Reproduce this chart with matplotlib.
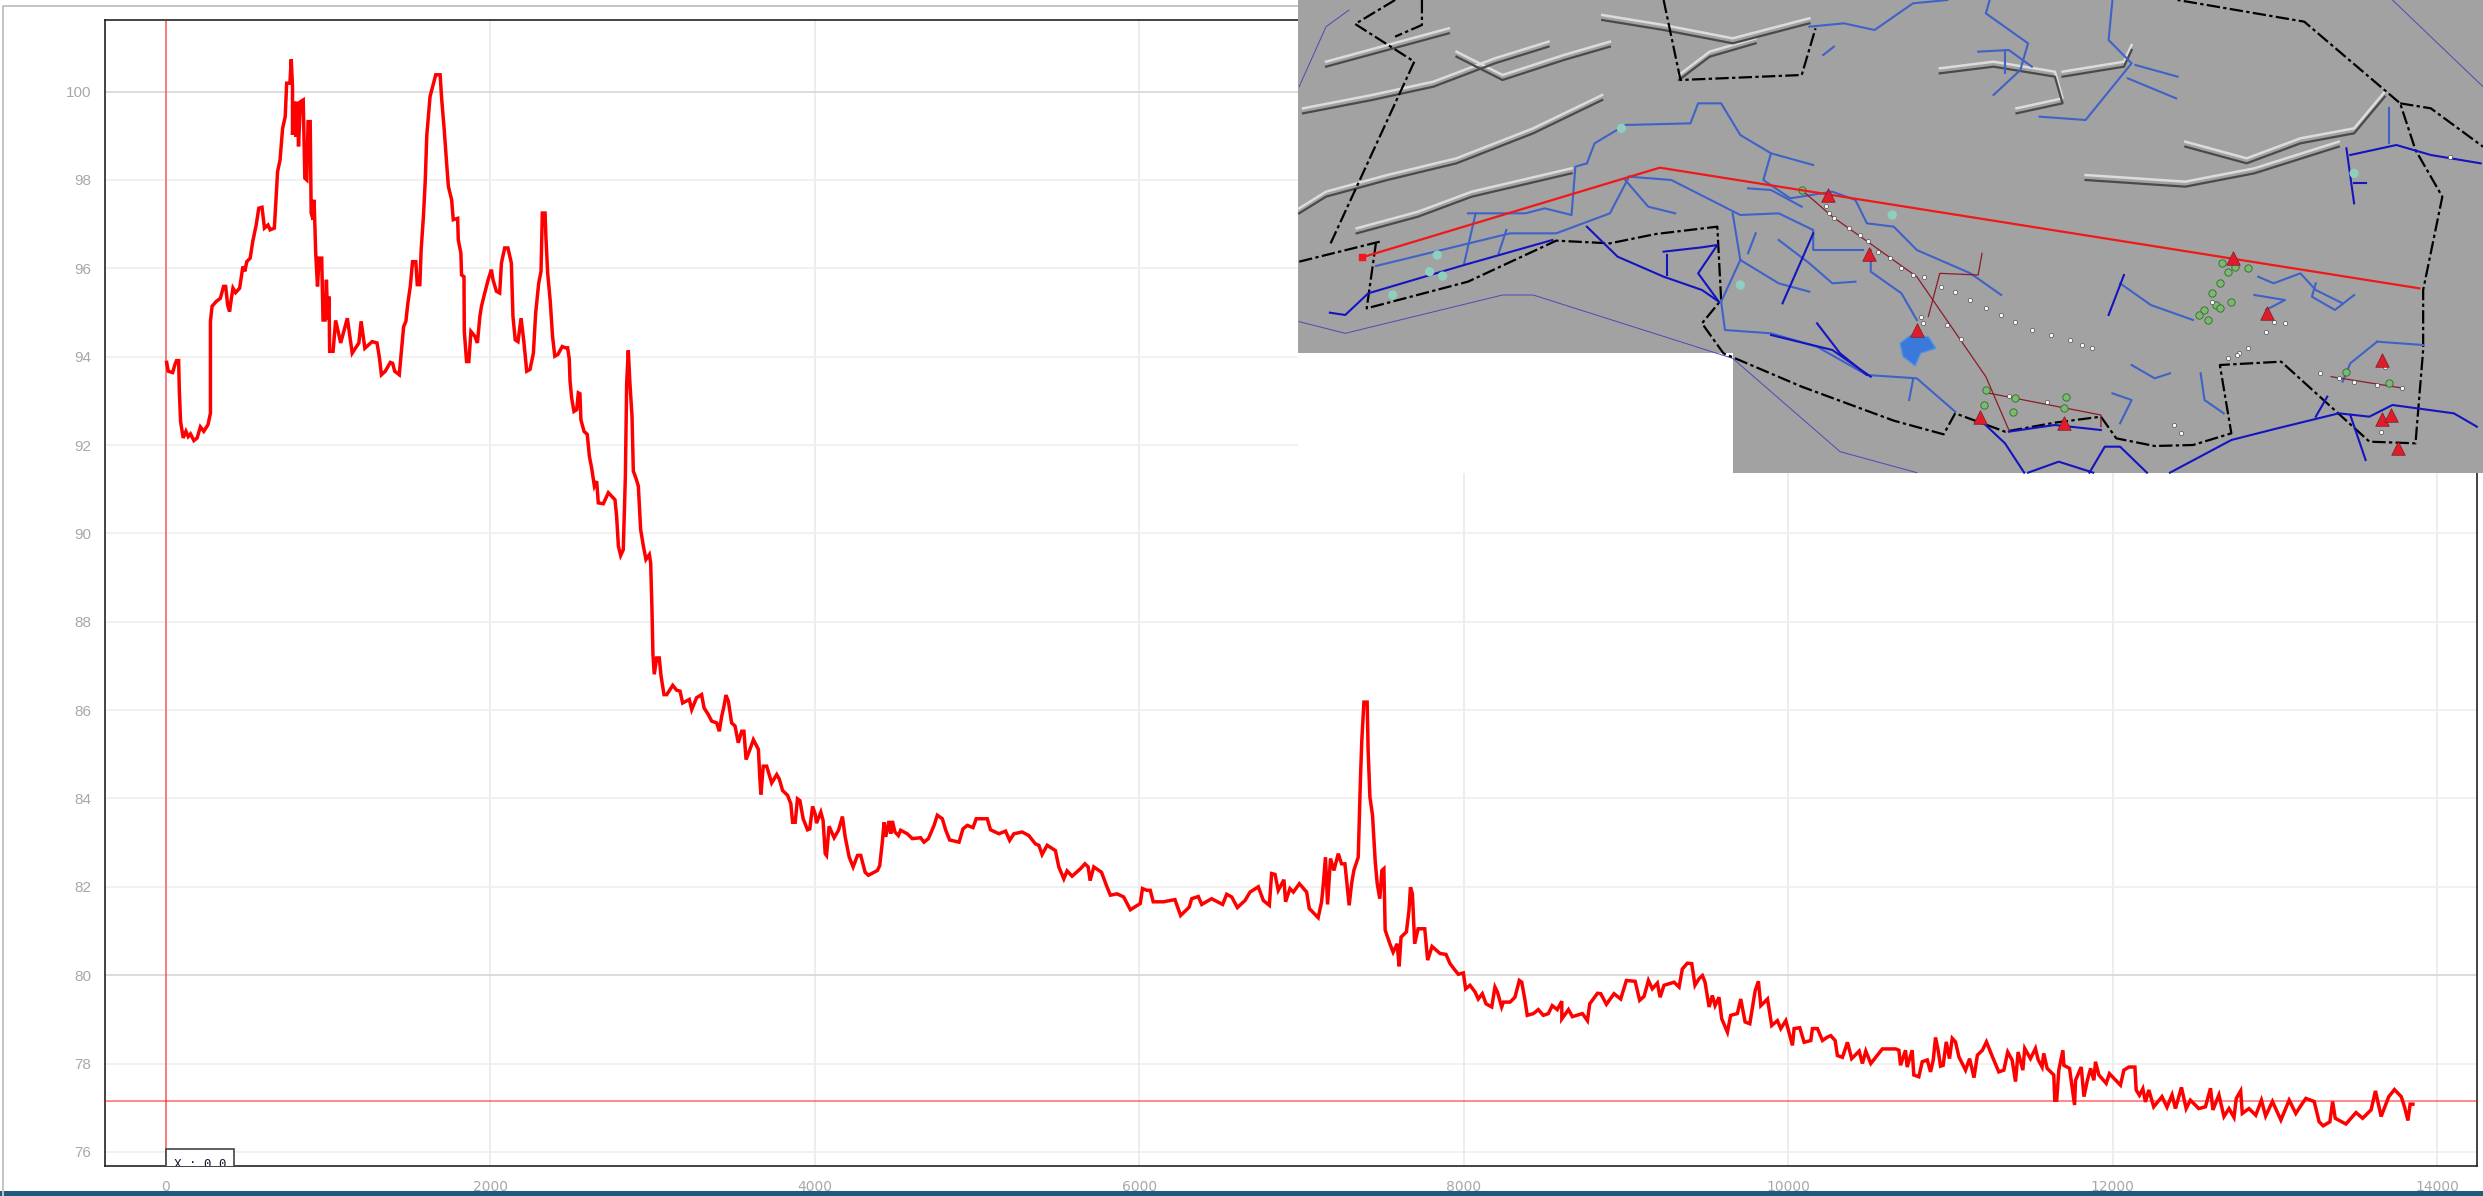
import numpy as np
import matplotlib
matplotlib.use("Agg")
import matplotlib.pyplot as plt
from matplotlib.patches import Rectangle, Polygon

# elevation profile (distance, elevation)
dist_a = [4,14,41,55,65,78,82,90,106,123,137,151,172,192,212,233,259,274,274,284,310,335,355,368,380,392,402,413,429,454,474,486,498,519,535,556,572,592,607,629,642,668,678,688,703,719,735,744,764,772,780,780,791,801,809,817,829,846,856,868,876,889,895,907,913,923,934,944,960,968,981,989,997,1005,1009,1030,1046,1077,1118,1148,1189,1203,1226,1271,1301,1316,1328,1352,1383,1397,1410,1438,1451,1465,1479,1491,1506,1520,1540,1549,1565,1573,1587,1598,1608,1628,1649,1663,1690,1700,1716,1730,1741,1761,1771,1798,1802,1818,1822,1837,1839,1853,1867,1880,1904,1920,1935,1945,1965,1986,2006,2016,2037,2057,2068,2088,2108,2129,2139,2153,2170]
elev_a = [93.87,93.67,93.64,93.82,93.91,93.91,93.25,92.53,92.16,92.31,92.19,92.25,92.10,92.16,92.41,92.31,92.46,92.72,94.80,95.14,95.25,95.32,95.59,95.59,95.17,95.02,95.29,95.55,95.45,95.55,96.04,95.93,96.15,96.23,96.61,96.98,97.36,97.38,96.91,96.98,96.87,96.91,97.55,98.19,98.45,99.17,99.43,100.19,100.19,100.73,100.11,99.02,99.77,98.98,99.77,98.76,99.77,99.81,98.04,98.00,99.32,99.32,97.25,97.10,97.55,96.34,95.59,96.23,96.23,94.83,94.83,95.74,94.83,95.36,94.12,94.12,94.82,94.31,94.87,94.08,94.31,94.80,94.19,94.34,94.31,93.97,93.59,93.67,93.87,93.85,93.67,93.59,94.12,94.68,94.80,95.21,95.59,96.15,96.15,95.63,95.63,96.42,97.17,97.96,99.02,99.89,100.19,100.38,100.38,99.81,99.10,98.38,97.85,97.55,97.10,97.13,96.64,96.34,95.85,95.81,94.57,93.89,93.89,94.57,94.46,94.31,94.91,95.14,95.44,95.74,95.97,95.74,95.48,95.44,96.12,96.46,96.46,96.12,94.91,94.38,94.34]

dist_b = [2189,2205,2224,2244,2265,2279,2298,2312,2320,2337,2342,2353,2369,2383,2397,2416,2443,2462,2476,2486,2491,2501,2515,2532,2542,2552,2558,2577,2597,2610,2624,2641,2655,2665,2696,2727,2768,2778,2789,2803,2819,2832,2840,2850,2860,2873,2881,2897,2912,2926,2943,2959,2980,2988,2996,3002,3010,3025,3041,3052,3070,3087,3124,3148,3169,3185,3226,3241,3271,3302,3317,3343,3364,3395,3411,3426,3440,3452,3467,3487,3508,3528,3549,3563,3576,3600,3621,3652,3662,3668,3682,3703,3734,3765]
elev_b = [94.87,94.38,93.67,93.71,94.08,94.99,95.67,95.93,97.25,97.25,96.72,95.89,95.25,94.46,94.01,94.05,94.23,94.20,94.2,93.95,93.44,93.06,92.76,92.8,93.18,93.16,92.57,92.31,92.24,91.75,91.48,91.07,91.18,90.69,90.67,90.92,90.76,90.39,89.71,89.5,89.63,91.29,93.4,94.14,93.4,92.65,91.41,91.25,91.07,90.09,89.71,89.41,89.52,89.33,88.28,87.26,86.81,87.18,87.18,86.77,86.35,86.35,86.56,86.45,86.43,86.16,86.24,86.01,86.28,86.35,86.05,85.9,85.75,85.71,85.52,85.86,86.09,86.34,86.2,85.71,85.64,85.26,85.52,85.52,84.88,85.11,85.33,85.11,84.39,84.09,84.73,84.73,84.35,84.54]

dist_c = [3781,3801,3832,3852,3863,3879,3893,3908,3928,3955,3969,3986,4002,4010,4037,4051,4064,4072,4088,4119,4146,4170,4187,4212,4236,4263,4283,4310,4330,4386,4400,4416,4427,4437,4457,4468,4478,4494,4515,4529,4570,4601,4652,4673,4700,4735,4755,4786,4807,4831,4889,4913,4940,4975,4995,5063,5083,5135,5176,5201,5227,5278,5319,5360,5381,5401,5432,5483,5504,5535,5555,5586,5638,5665,5685,5697,5720,5767,5802,5822,5863,5904,5945,6006,6020,6047]
elev_c = [84.44,84.18,84.07,83.88,83.46,83.46,83.99,83.95,83.54,83.29,83.31,83.82,83.65,83.44,83.69,83.5,82.75,82.71,83.37,83.11,83.28,83.59,83.13,82.67,82.45,82.71,82.71,82.33,82.26,82.37,82.48,83.01,83.46,83.13,83.49,83.2,83.49,83.24,83.16,83.28,83.2,83.09,83.11,83.01,83.09,83.39,83.62,83.54,83.28,83.06,83.01,83.31,83.39,83.34,83.54,83.54,83.29,83.2,83.26,83.05,83.2,83.24,83.16,82.97,82.94,82.73,82.94,82.82,82.45,82.18,82.36,82.24,82.41,82.52,82.45,82.14,82.45,82.33,81.99,81.81,81.84,81.77,81.48,81.62,81.96,81.92]

dist_d = [6068,6086,6148,6220,6255,6308,6323,6364,6385,6446,6514,6539,6570,6605,6652,6683,6734,6765,6802,6816,6837,6857,6892,6902,6929,6950,6987,7032,7048,7103,7124,7134,7148,7161,7179,7200,7227,7247,7268,7294,7309,7323,7350,7364,7372,7385,7405,7411,7422,7438,7455,7467,7483,7496,7508,7516,7545,7565,7590,7602,7614,7647,7663,7672,7684,7698,7719,7760,7778,7805,7854,7891]
elev_d = [81.92,81.66,81.66,81.71,81.35,81.54,81.73,81.78,81.6,81.73,81.6,81.83,81.77,81.53,81.69,81.88,82.0,81.69,81.58,82.3,82.28,81.92,82.16,81.66,81.96,81.88,82.07,81.88,81.51,81.3,81.66,82.03,82.67,81.6,82.64,82.37,82.75,82.52,82.52,81.58,82.07,82.37,82.67,84.49,85.31,86.18,86.18,85.09,84.03,83.62,82.56,82.07,81.73,82.37,82.41,81.02,80.71,80.52,80.71,80.2,80.86,80.98,81.47,81.99,81.84,80.71,81.05,81.05,80.34,80.65,80.49,80.47]

dist_e = [7916,7947,7967,7998,8012,8039,8070,8090,8115,8138,8173,8193,8208,8234,8245,8286,8316,8343,8358,8378,8392,8430,8460,8491,8522,8546,8577,8605,8605,8646,8670,8732,8763,8777,8825,8845,8880,8927,8968,9003,9057,9085,9112,9139,9163,9194,9211,9235,9297,9328,9348,9379,9406,9426,9451,9472,9488,9513,9533,9550,9574,9591,9626,9646,9687,9708,9735,9764,9797,9817,9832,9873,9899,9934,9955,9986,10027,10037,10072,10099,10140,10150,10181,10212,10243,10263,10290,10304,10335,10366,10392,10438,10458,10479,10510,10581,10622,10663]
elev_e = [80.26,80.11,80.02,80.05,79.69,79.77,79.62,79.46,79.58,79.35,79.28,79.73,79.62,79.28,79.39,79.39,79.5,79.88,79.84,79.43,79.09,79.13,79.22,79.09,79.13,79.31,79.22,79.41,79.01,79.22,79.06,79.13,78.97,79.35,79.59,79.58,79.34,79.58,79.46,79.88,79.86,79.43,79.52,79.88,79.69,79.82,79.5,79.77,79.84,79.73,80.14,80.27,80.26,79.77,79.92,79.99,79.84,79.28,79.54,79.31,79.5,79.01,78.71,79.09,79.13,79.46,78.94,78.9,79.65,79.86,79.31,79.46,78.86,78.97,78.79,78.97,78.41,78.79,78.81,78.48,78.52,78.79,78.79,78.52,78.6,78.63,78.52,78.18,78.14,78.48,78.11,78.28,78.0,78.28,78.0,78.33,78.33,78.33]

dist_f = [10683,10693,10724,10734,10765,10775,10806,10827,10858,10878,10895,10909,10925,10940,10956,10975,10995,11012,11032,11053,11094,11119,11146,11167,11198,11223,11260,11299,11330,11354,11381,11402,11418,11447,11459,11494,11525,11541,11566,11576,11597,11638,11644,11656,11669,11694,11700,11735,11766,11772,11807,11824,11845,11865,11885,11895,11916,11961,11981,12049,12070,12101,12138,12146,12166,12187,12203,12224]
elev_f = [78.3,77.96,78.3,77.92,78.3,77.74,77.7,78.04,78.08,77.81,78.08,78.59,78.3,77.94,77.96,78.49,78.11,78.57,78.49,78.15,77.85,78.11,77.68,78.19,78.3,78.49,78.15,77.81,77.85,78.26,78.08,77.59,78.26,77.85,78.34,78.11,78.34,78.09,77.92,78.23,77.89,77.74,77.17,77.17,77.85,78.3,77.96,77.89,77.06,77.62,77.92,77.25,77.62,77.89,77.62,78.04,77.74,77.55,77.77,77.51,77.85,77.92,77.92,77.4,77.28,77.43,77.13,77.4]

dist_g = [12254,12305,12336,12367,12388,12425,12454,12480,12532,12573,12604,12619,12656,12687,12718,12749,12763,12790,12800,12841,12883,12918,12944,12986,13038,13089,13130,13171,13192,13243,13274,13299,13340,13357,13373,13439,13501,13542,13594,13621,13656,13703,13738,13780,13800,13821,13835,13852]
elev_g = [77.02,77.25,77.01,77.29,76.98,77.46,76.98,77.17,76.98,77.02,77.44,76.95,77.29,76.8,76.98,76.78,77.21,77.38,76.87,76.98,76.83,77.17,76.81,77.14,76.72,77.17,76.87,77.1,77.21,77.14,76.68,76.59,76.68,77.14,76.76,76.63,76.89,76.76,76.95,77.38,76.8,77.25,77.41,77.25,77.02,76.71,77.08,77.08]

distance = dist_a + dist_b + dist_c + dist_d + dist_e + dist_f + dist_g
elevation = elev_a + elev_b + elev_c + elev_d + elev_e + elev_f + elev_g

xticks = [0,2000,4000,6000,8000,10000,12000,14000]
yticks = [76,78,80,82,84,86,88,90,92,94,96,98,100]
cross_x = 0
cross_y = 77.16

# map overlay features, in the map's own coordinates
map_outline = [(23,0),(1568,0),(1568,1418),(590,1418),(590,1058),(23,1058)]
lake = [(822,1005),(845,1010),(855,1045),(835,1060),(828,1098),(812,1070),(808,1030)]
profile_line = [(107,772),(495,503),(1485,865)]
sites_x = [714,768,830,913,1022,1242,1287,1437,1437,1448,1457]
sites_y = [585,762,990,1250,1268,773,938,1080,1258,1245,1345]
wells_x = [712,716,722,742,756,766,780,795,810,825,840,862,880,900,920,940,958,980,1005,1030,1045,1058,870,888,835,838,950,1000,1250,1262,1235,1248,1295,1285,1310,1355,1380,1400,1430,1462,1440,1435,1165,1175,1215,1525]
wells_y = [617,640,655,683,705,722,755,775,805,825,830,860,875,900,925,945,965,990,1005,1020,1035,1045,975,1018,950,970,1188,1205,1060,1045,1075,1065,965,995,970,1120,1135,1145,1155,1165,1100,1295,1275,1298,905,470]
trees_x = [680,1228,1235,1245,1262,1225,1215,1220,1205,1198,1210,1225,1240,920,918,958,955,1025,1022,1390,1445]
trees_y = [570,790,815,800,805,850,880,915,930,945,960,925,905,1170,1215,1195,1235,1190,1225,1115,1150]
pale_x = [445,205,195,212,147,798,600,1400]
pale_y = [385,765,815,828,885,645,855,520]

thin_blue = [
    [(90,30),(60,80),(25,260)],
    [(25,965),(85,1000),(290,885),(330,885),(590,1075),(730,1355),(830,1418)],
    [(1450,0),(1568,260)],
]
thin_red = [
    [(680,570),(720,650),(830,830),(920,1130),(950,1290)],
    [(845,950),(860,820),(910,825),(915,760)],
    [(925,1180),(1070,1245),(1070,1280)],
    [(1370,1130),(1465,1165)],
]
boundary = [
    [(150,0),(98,72),(175,185),(120,460),(65,735)],
    [(185,0),(185,75),(150,110)],
    [(500,0),(522,240),(680,225),(698,85)],
    [(25,785),(130,725)],
    [(125,730),(113,925),(245,845),(360,722),(430,730),(490,702),(570,680),(575,900),(550,970),(578,1060),(680,1160),(800,1262),(865,1303),(880,1240),(945,1295),(1010,1268),(1070,1250),(1090,1315),(1140,1338),(1190,1335),(1240,1300),(1225,1095),(1305,1085),(1420,1325),(1480,1330),(1490,1050),(1490,870),(1515,590),(1480,450),(1460,310),(1335,65),(1170,0)],
    [(1460,310),(1500,325),(1568,440)],
]
river_dark = [
    [(65,938),(85,945),(115,880),(240,795),(355,720)],
    [(400,680),(440,770),(500,830),(550,870),(572,905)],
    [(500,755),(550,742),(570,735),(545,820),(572,905)],
    [(505,765),(505,825)],
    [(695,700),(655,910)],
    [(1565,490),(1500,465),(1455,435),(1395,465)],
    [(1390,445),(1400,610)],
    [(1400,550),(1415,550)],
    [(1100,825),(1080,945)],
    [(1160,1418),(1240,1320),(1300,1285),(1380,1240),(1420,1250),(1450,1215),(1530,1240),(1560,1280)],
    [(915,1265),(945,1330),(970,1418)],
    [(975,1418),(1015,1385),(1060,1418)],
    [(1055,1418),(1075,1340),(1095,1340),(1130,1418)],
    [(950,1295),(1010,1275),(1070,1290)],
    [(640,1005),(720,1050),(770,1130)],
    [(700,970),(730,1060),(765,1125)],
    [(1365,1190),(1350,1250)],
    [(1395,1245),(1415,1380)],
]
river_mid = [
    [(990,350),(1050,360),(1110,190),(1080,120),(1085,0)],
    [(1115,195),(1170,230)],
    [(1105,235),(1168,295)],
    [(925,0),(920,40),(975,130),(965,210),(930,285)],
    [(910,155),(950,150),(980,200)],
    [(945,150),(945,220)],
    [(690,80),(735,70),(775,90),(825,10),(870,0)],
    [(708,165),(722,140)],
    [(400,490),(410,430),(450,375),(535,370),(545,310),(575,310),(600,405),(640,460),(695,495)],
    [(640,460),(630,540),(665,595),(720,575),(750,600),(765,670),(800,680),(830,750),(900,820),(940,885)],
    [(455,530),(510,540),(570,610),(600,645),(650,640),(695,690),(695,750),(760,750)],
    [(455,530),(430,640),(360,700),(300,700),(125,798)],
    [(245,640),(320,640),(345,625),(380,645),(385,500),(400,490)],
    [(450,540),(480,620),(515,640)],
    [(610,565),(640,570),(680,620)],
    [(590,640),(600,780),(650,850),(690,875)],
    [(600,780),(575,905),(580,990),(640,1000),(700,1040),(765,1125),(830,1135),(880,1235)],
    [(770,750),(770,815),(810,880),(830,960)],
    [(650,720),(690,790),(720,850),(750,845)],
    [(620,700),(610,760)],
    [(255,640),(240,790)],
    [(295,690),(285,760)],
    [(1095,850),(1135,915),(1190,960)],
    [(1275,830),(1295,850),(1330,820),(1350,870),(1385,910)],
    [(1350,850),(1345,890),(1375,930),(1400,885)],
    [(1270,885),(1310,900),(1285,930)],
    [(1110,1095),(1140,1135),(1160,1120)],
    [(1200,1120),(1205,1200),(1230,1240)],
    [(1085,1180),(1110,1200),(1095,1270)],
    [(1430,1025),(1490,1035)],
    [(1430,1025),(1395,1090),(1385,1145)],
    [(1445,325),(1445,430)],
    [(825,1140),(820,1200)],
]
ridge_dark = [
    [(25,640),(60,590),(140,540),(230,490),(330,400),(420,300)],
    [(30,340),(120,300),(200,260),(280,190),(350,140)],
    [(230,170),(290,240),(370,180),(430,140)],
    [(420,60),(500,90),(590,130),(690,70)],
    [(520,240),(560,170),(620,130)],
    [(860,220),(930,200),(1010,230),(1020,310),(960,340)],
    [(1020,230),(1100,200),(1110,150)],
    [(1180,440),(1260,490),(1330,430),(1400,400),(1440,290)],
    [(1050,540),(1180,560),(1270,520),(1380,440)],
    [(100,700),(180,650),(250,590),(380,520)],
    [(60,200),(140,150),(220,100)],
]
ridge_light = [
    [(25,625),(60,575),(140,525),(230,475),(330,385),(420,285)],
    [(30,325),(120,285),(200,245),(280,175),(350,125)],
    [(230,155),(290,225),(370,165),(430,125)],
    [(420,45),(500,75),(590,115),(690,55)],
    [(520,225),(560,155),(620,115)],
    [(860,205),(930,185),(1010,215),(1020,295),(960,325)],
    [(1020,215),(1100,185),(1110,135)],
    [(1180,425),(1260,475),(1330,415),(1400,385),(1440,275)],
    [(1050,525),(1180,545),(1270,505),(1380,425)],
    [(100,685),(180,635),(250,575),(380,505)],
    [(60,185),(140,135),(220,85)],
]


def draw_lines(ax, lines, **kw):
    for line in lines:
        xs, ys = zip(*line)
        ax.plot(xs, ys, **kw)


W, H = 2483, 1196
fig = plt.figure(figsize=(W / 100, H / 100), dpi=100, facecolor="white")

# main chart
ax = fig.add_axes([105 / W, 1 - 1166 / H, (2477 - 105) / W, (1166 - 20) / H])
ax.set_xlim(-376, 14247)
ax.set_ylim(75.68, 101.62)
ax.set_xticks(xticks)
ax.set_yticks(yticks)
ax.tick_params(length=0, pad=10)
for lab in ax.get_xticklabels():
    lab.set(color="#a8a8a8", fontsize=10, family="DejaVu Sans")
for lab in ax.get_yticklabels():
    lab.set(color="#a8a8a8", fontsize=11, family="Liberation Sans")
for s in ax.spines.values():
    s.set_linewidth(1.2)
    s.set_color("#222222")
ax.set_axisbelow(True)
for t in xticks:
    ax.axvline(t, color="#e8e8e8", lw=1.1, zorder=1)
for t in yticks:
    ax.axhline(t, color="#d2d2d2" if t in (80, 100) else "#eeeeee", lw=1.1, zorder=1)

ax.plot(distance, elevation, color="#ff0000", lw=2.5, solid_joinstyle="miter", zorder=3)
ax.axvline(cross_x, color="#ff0000", alpha=0.5, lw=1.3, zorder=4)
ax.axhline(cross_y, color="#ff0000", alpha=0.5, lw=1.3, zorder=4)

# clipped readout box at the foot of the crosshair
ax.add_patch(Rectangle((0, 75.6), 420, 0.46, fc="white", ec="#444444", lw=1.2, zorder=5))
ax.text(210, 75.85, "X : 0.0", family="DejaVu Sans Mono", fontsize=9, color="#221133",
        ha="center", va="top", clip_on=True, zorder=6)

# outer window frame and taskbar strip
bg = fig.add_axes([0, 0, 1, 1], zorder=-1)
bg.set_xlim(0, W)
bg.set_ylim(H, 0)
bg.axis("off")
bg.plot([3, 3, W], [H, 6, 6], color="#c4c4c4", lw=1.4)
bg.add_patch(Rectangle((0, 1191), W, 5, fc="#1c5a80", ec="none"))

# map overlay, pasted over the top right of the chart
m = fig.add_axes([1280 / W, 1 - 500 / H, 1203 / W, 500 / H], zorder=5)
m.set_xlim(0, 1568)
m.set_ylim(1500, 0)
m.axis("off")
m.add_patch(Rectangle((23, 0), 1545, 1418, fc="white", ec="none", zorder=0))
m.add_patch(Polygon(map_outline, fc="#a2a2a2", ec="none", zorder=1))
draw_lines(m, ridge_light, color="#dcdcdc", lw=1.8, zorder=2)
draw_lines(m, ridge_dark, color="#4a4a4a", lw=1.6, zorder=2)
draw_lines(m, thin_blue, color="#4a4ab8", lw=0.7, zorder=3)
draw_lines(m, boundary, color="black", lw=1.6, ls=(0, (6, 1.5, 1.5, 1.5)), zorder=3)
draw_lines(m, river_mid, color="#3f62c8", lw=1.5, zorder=4)
draw_lines(m, river_dark, color="#1414c0", lw=1.5, zorder=4)
draw_lines(m, thin_red, color="#8c1c28", lw=0.9, zorder=4)
m.add_patch(Polygon(lake, fc="#3a78dc", ec="#5a96dc", lw=1, zorder=4))
m.scatter(pale_x, pale_y, s=45, color="#8fcfc0", edgecolors="none", zorder=4)
m.scatter(trees_x, trees_y, s=28, color="#7cb870", edgecolors="#2f6a2f", lw=0.6, zorder=5)
m.scatter(wells_x, wells_y, s=9, color="white", edgecolors="#333333", lw=0.4, zorder=5)
xs, ys = zip(*profile_line)
m.plot(xs, ys, color="#f01818", lw=1.6, zorder=6)
m.scatter(xs[0], ys[0], s=22, marker="s", color="#f01818", zorder=6)
m.scatter(sites_x, sites_y, s=95, marker="^", color="#e01c2c", edgecolors="#7a1c1c", lw=0.5, zorder=7)
m.set_xlim(0, 1568)
m.set_ylim(1500, 0)

fig.savefig("out.png", dpi=100)
